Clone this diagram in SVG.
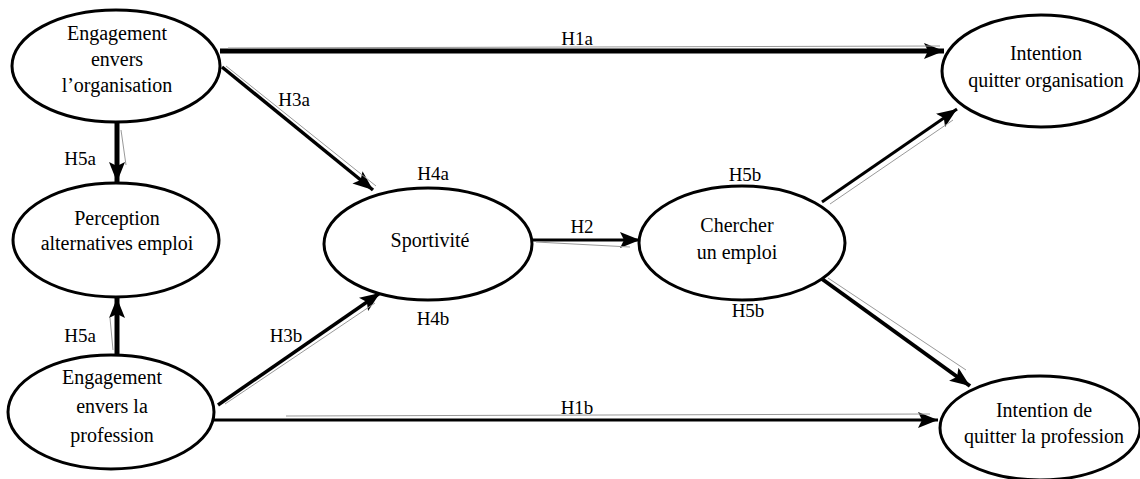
<svg xmlns="http://www.w3.org/2000/svg" width="1140" height="479" viewBox="0 0 1140 479">
<defs>
<style>
.node ellipse{fill:#fff;stroke:#000;stroke-width:3}
text{font-family:"Liberation Serif","Times New Roman",serif;fill:#000;text-anchor:middle}
.nt{font-size:20px}
.lb{font-size:19px}
.c{stroke:#000;fill:none}
.g{stroke:#999;stroke-width:1;fill:none}
</style>
<marker id="ah" markerUnits="userSpaceOnUse" markerWidth="22" markerHeight="18" refX="20" refY="8" orient="auto">
<path d="M0,0 L20,8 L0,16 L4,8 Z" fill="#000"/>
</marker>
</defs>
<g id="connectors">
<line class="c" x1="220" y1="51" x2="944" y2="51" stroke-width="5" marker-end="url(#ah)"/>
<line class="c" x1="222" y1="67" x2="373" y2="190" stroke-width="3.5" marker-end="url(#ah)"/>
<line class="c" x1="117" y1="123" x2="117" y2="182" stroke-width="5" marker-end="url(#ah)"/>
<line class="c" x1="117" y1="354" x2="117" y2="298" stroke-width="5" marker-end="url(#ah)"/>
<line class="c" x1="218" y1="405" x2="380" y2="293" stroke-width="3.5" marker-end="url(#ah)"/>
<line class="c" x1="214" y1="420" x2="938" y2="420" stroke-width="3" marker-end="url(#ah)"/>
<line class="c" x1="532" y1="240" x2="640" y2="240" stroke-width="3" marker-end="url(#ah)"/>
<line class="c" x1="822" y1="202" x2="957" y2="109" stroke-width="3" marker-end="url(#ah)"/>
<line class="c" x1="822" y1="279" x2="970" y2="386" stroke-width="4" marker-end="url(#ah)"/>
<line class="g" x1="228" y1="48" x2="940" y2="46"/>
<line class="g" x1="226" y1="66" x2="376" y2="186"/>
<line class="g" x1="121" y1="130" x2="126" y2="165"/>
<line class="g" x1="113" y1="350" x2="110" y2="318"/>
<line class="g" x1="225" y1="404" x2="375" y2="303"/>
<line class="g" x1="286" y1="416" x2="930" y2="414"/>
<line class="g" x1="536" y1="242" x2="630" y2="247"/>
<line class="g" x1="830" y1="204" x2="953" y2="120"/>
<line class="g" x1="828" y1="278" x2="966" y2="370"/>
</g>
<g id="n1" class="node"><ellipse cx="116" cy="66" rx="104" ry="56"/>
<text class="nt" x="117" y="40">Engagement</text><text class="nt" x="117" y="66">envers</text><text class="nt" x="117" y="92">l’organisation</text></g>
<g id="n2" class="node"><ellipse cx="116" cy="240" rx="103" ry="57"/>
<text class="nt" x="117" y="225">Perception</text><text class="nt" x="117" y="250">alternatives emploi</text></g>
<g id="n3" class="node"><ellipse cx="111" cy="412" rx="103" ry="57"/>
<text class="nt" x="112" y="384">Engagement</text><text class="nt" x="112" y="413">envers la</text><text class="nt" x="112" y="442">profession</text></g>
<g id="n4" class="node"><ellipse cx="428" cy="244" rx="104" ry="56"/>
<text class="nt" x="430" y="247">Sportivité</text></g>
<g id="n5" class="node"><ellipse cx="742" cy="243" rx="103" ry="57"/>
<text class="nt" x="737" y="232">Chercher</text><text class="nt" x="737" y="259">un  emploi</text></g>
<g id="n6" class="node"><ellipse cx="1041" cy="71" rx="99" ry="56"/>
<text class="nt" x="1046" y="60">Intention</text><text class="nt" x="1046" y="87">quitter organisation</text></g>
<g id="n7" class="node"><ellipse cx="1040" cy="428" rx="100" ry="52"/>
<text class="nt" x="1044" y="417">Intention de</text><text class="nt" x="1044" y="443">quitter la profession</text></g>
<g id="labels">
<text class="lb" x="577" y="45">H1a</text>
<text class="lb" x="294" y="106">H3a</text>
<text class="lb" x="80" y="165">H5a</text>
<text class="lb" x="80" y="342">H5a</text>
<text class="lb" x="286" y="342">H3b</text>
<text class="lb" x="577" y="414">H1b</text>
<text class="lb" x="582" y="233">H2</text>
<text class="lb" x="433" y="180">H4a</text>
<text class="lb" x="433" y="325">H4b</text>
<text class="lb" x="745" y="181">H5b</text>
<text class="lb" x="748" y="317">H5b</text>
</g>
</svg>
